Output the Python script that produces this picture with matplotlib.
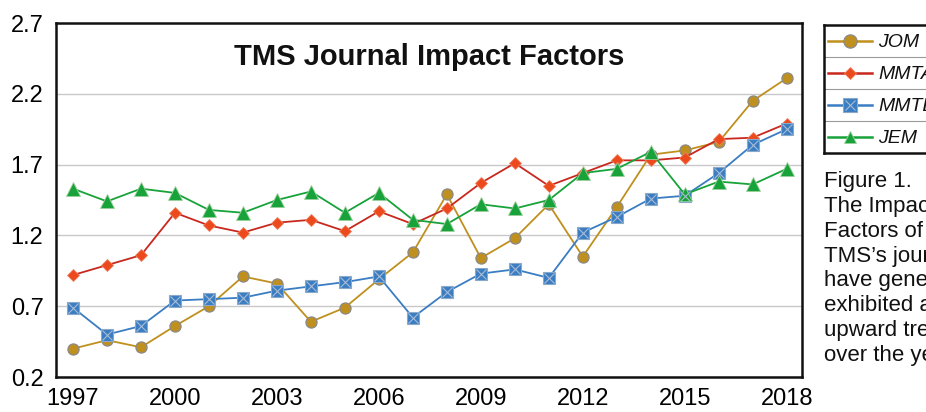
import matplotlib
matplotlib.use("Agg")
import matplotlib.pyplot as plt

plt.rcParams['font.family'] = ['Liberation Sans', 'DejaVu Sans']

years = list(range(1997, 2019))
jom = [0.40, 0.46, 0.41, 0.56, 0.70, 0.91, 0.86, 0.59, 0.69, 0.89, 1.08, 1.49,
       1.04, 1.18, 1.42, 1.05, 1.40, 1.77, 1.80, 1.86, 2.15, 2.31]
mmta = [0.92, 0.99, 1.06, 1.36, 1.27, 1.22, 1.29, 1.31, 1.23, 1.37, 1.28, 1.39,
        1.57, 1.71, 1.55, 1.64, 1.73, 1.73, 1.75, 1.88, 1.89, 1.99]
mmtb = [0.69, 0.50, 0.56, 0.74, 0.75, 0.76, 0.81, 0.84, 0.87, 0.91, 0.62, 0.80,
        0.93, 0.96, 0.90, 1.22, 1.33, 1.46, 1.48, 1.64, 1.84, 1.95]
jem = [1.53, 1.44, 1.53, 1.50, 1.38, 1.36, 1.45, 1.51, 1.36, 1.50, 1.31, 1.28,
       1.42, 1.39, 1.45, 1.64, 1.67, 1.79, 1.49, 1.58, 1.56, 1.67]

xticks = [1997, 2000, 2003, 2006, 2009, 2012, 2015, 2018]
yticks = [0.2, 0.7, 1.2, 1.7, 2.2, 2.7]
names = ['JOM', 'MMTA', 'MMTB', 'JEM']
title = 'TMS Journal Impact Factors'
caption = "Figure 1.\nThe Impact\nFactors of\nTMS\u2019s journals\nhave generally\nexhibited an\nupward trend\nover the years."

styles = [
    dict(color='#C0901E', marker='o', markersize=8, markerfacecolor='#C0901E',
         markeredgecolor='#8a8a8a', markeredgewidth=0.9),
    dict(color='#C8281E', marker='D', markersize=6, markerfacecolor='#EC4A1C',
         markeredgecolor='#f08060', markeredgewidth=0.6),
    dict(color='#3A7DC2', marker='s', markersize=9, markerfacecolor='#3A7DC2',
         markeredgecolor='#8aa8c8', markeredgewidth=0.8),
    dict(color='#18A33A', marker='^', markersize=9.5, markerfacecolor='#18A33A',
         markeredgecolor='#9ccf9c', markeredgewidth=0.6),
]
legend_sizes = [9.5, 6, 9.5, 8.5]

fig = plt.figure(figsize=(9.26, 4.12), dpi=100)
ax = fig.add_axes([56/926, 35/412, 746/926, 354/412])

for vals, st in zip([jom, mmta, mmtb, jem], styles):
    ax.plot(years, vals, linewidth=1.3, **st, zorder=3)
    if st['marker'] == 's':
        ax.plot(years, vals, linestyle='none', marker='x', markersize=6.5,
                markeredgecolor='#a8bcd4', markeredgewidth=0.8, zorder=4)

ax.set_xlim(1996.5, 2018.45)
ax.set_ylim(0.2, 2.7)
ax.set_xticks(xticks)
ax.set_yticks(yticks)
ax.set_yticklabels([f'{v:.1f}' for v in yticks])
ax.tick_params(axis='both', length=0, labelsize=17)
ax.tick_params(axis='y', pad=9)
ax.tick_params(axis='x', pad=8)
ax.grid(axis='y', color='#c8c8c8', linewidth=1.0)
ax.set_axisbelow(True)
for sp in ax.spines.values():
    sp.set_linewidth(1.8)
    sp.set_color('#111111')
ax.text(0.5, 0.905, title, transform=ax.transAxes, ha='center', va='center',
        fontsize=21, fontweight='bold', color='#111111')

# legend panel (cut off at right edge)
lax = fig.add_axes([824/926, 259/412, 180/926, 128/412])
lax.set_xlim(0, 180)
lax.set_ylim(0, 4)
lax.set_xticks([])
lax.set_yticks([])
for sp in lax.spines.values():
    sp.set_linewidth(1.8)
    sp.set_color('#111111')
for k in (1, 2, 3):
    lax.axhline(k, color='#9a9a9a', linewidth=0.8)
for i, (nm, st, ms) in enumerate(zip(names, styles, legend_sizes)):
    yy = 3.5 - i
    lax.plot([4, 48], [yy, yy], linewidth=1.8, color=st['color'])
    mst = {k: v for k, v in st.items() if k not in ('color', 'markersize')}
    lax.plot([26], [yy], linestyle='none', markersize=ms, **mst)
    if st['marker'] == 's':
        lax.plot([26], [yy], linestyle='none', marker='x', markersize=7,
                 markeredgecolor='#a8bcd4', markeredgewidth=0.8)
    lax.text(54, yy - 0.04, nm, fontsize=14, fontstyle='italic', va='center', ha='left',
             color='#111111')

fig.text(824/926, 1 - 171/412, caption, ha='left', va='top', fontsize=16,
         linespacing=1.24, color='#111111')

fig.savefig('out.png', dpi=100)
